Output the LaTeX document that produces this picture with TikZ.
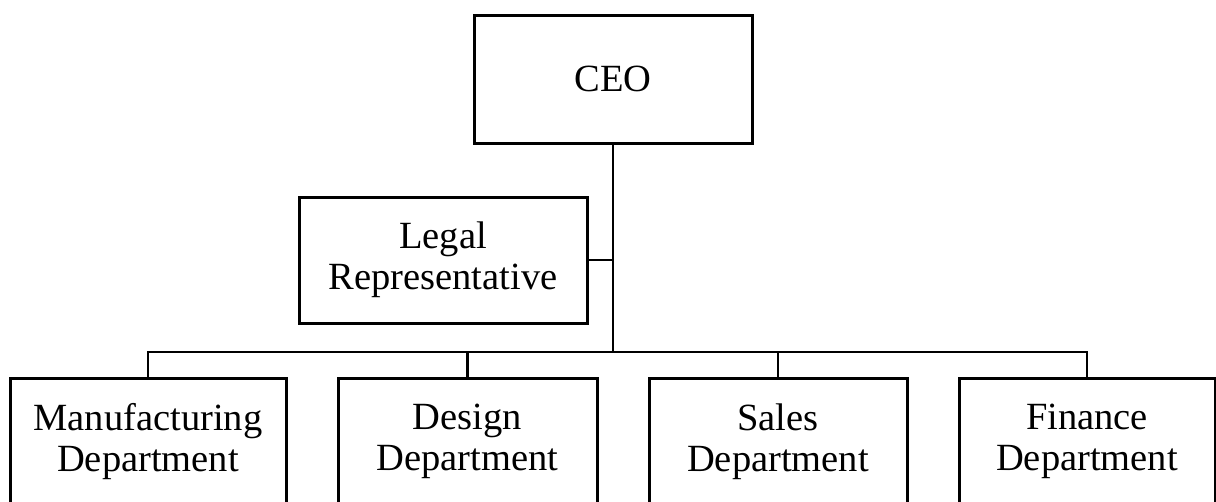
\documentclass[tikz,border=0pt]{standalone}
\usepackage{fontspec}
\setmainfont{Liberation Serif}
\begin{document}
\begin{tikzpicture}[x=1pt,y=-1pt,
  box/.style={draw, line width=3pt, outer sep=0pt, inner sep=0pt, align=center,
    font=\fontsize{38.5}{41}\selectfont},
  link/.style={line width=2.5pt}]
\useasboundingbox (0,0) rectangle (1216,501);
\clip (0,0) rectangle (1216,501);
\node[box, minimum width=278, minimum height=128] (ceo) at (613,79) {CEO};
\node[box, minimum width=288, minimum height=126] (legal) at (443,260) {Legal\\Representative};
\node[box, minimum width=276, minimum height=126] (manu) at (148,441.5) {Manufacturing\\Department};
\node[box, minimum width=259, minimum height=126] (design) at (467.5,441.5) {Design\\Department};
\node[box, minimum width=258, minimum height=126] (sales) at (778,441.5) {Sales\\Department};
\node[box, minimum width=256, minimum height=126] (fin) at (1087,441.5) {Finance\\Department};
\coordinate (busc) at (613,352);
\draw[link] (ceo.south) -- (busc);
\draw[link] (legal.east) -- (legal.east -| ceo.south);
\draw[link] (manu.north) |- (busc) -| (fin.north);
\draw[link] (design.north) -- (design.north |- busc);
\draw[link] (sales.north) -- (sales.north |- busc);
\end{tikzpicture}
\end{document}
